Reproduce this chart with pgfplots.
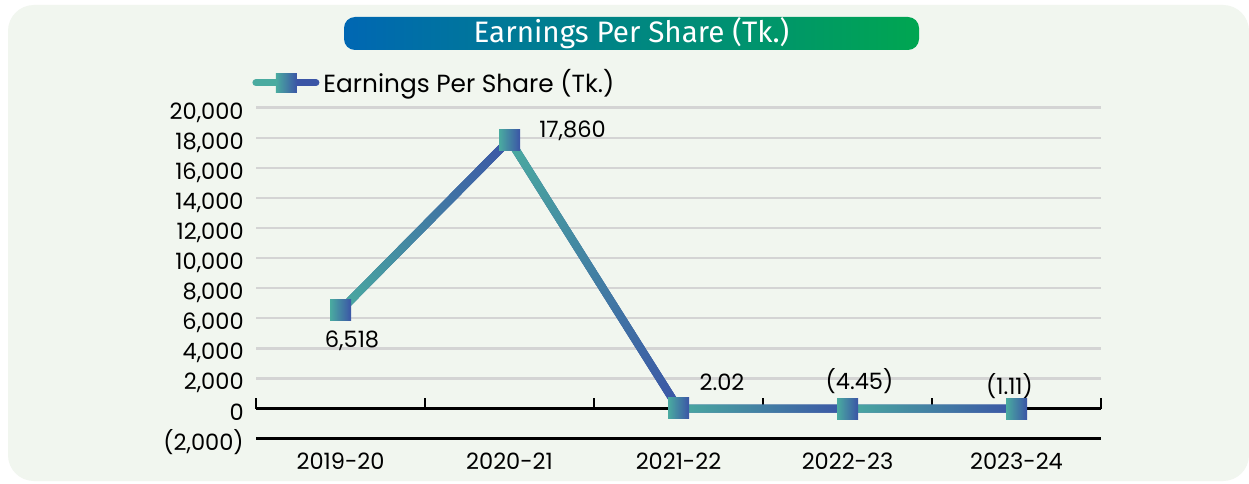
\documentclass[border=0pt]{standalone}
\usepackage{fontspec}
\setmainfont{Poppins}
\newfontfamily\titlefont{Fira Sans}
\usepackage{pgfplots}
\pgfplotsset{compat=1.18}
\usetikzlibrary{decorations.markings}
\definecolor{bgc}{HTML}{F1F6EF}
\definecolor{gridc}{HTML}{D4D4D4}
\definecolor{myteal}{HTML}{4AABA0}
\definecolor{myblue}{HTML}{3B55A6}
\definecolor{banblue}{HTML}{0067B3}
\definecolor{bangreen}{HTML}{00A651}
\newcommand\lf{\fontsize{11.25}{13.5}\selectfont}
\newcommand\lgf{\fontsize{12.4}{14.5}\selectfont}
\tikzset{gradline/.style={line width=4pt, color=myblue, postaction={decorate, decoration={markings,
  mark=between positions 0 and 1 step 0.5pt with {
    \pgfmathsetmacro\pp{100-100*\pgfkeysvalueof{/pgf/decoration/mark info/distance from start}/\pgfdecoratedpathlength}
    \draw[line width=4pt, draw=myteal!\pp!myblue] (-0.45pt,0pt) -- (0.45pt,0pt);
  }}}}}
\pgfdeclareplotmark{gsq}{\shade[draw=none, left color=myteal,right color=myblue] (-\pgfplotmarksize,-\pgfplotmarksize) rectangle (\pgfplotmarksize,\pgfplotmarksize);}
\begin{document}
\begin{tikzpicture}[x=1pt,y=1pt]
\useasboundingbox (0,0) rectangle (624.5,241.5);
\fill[white] (0,0) rectangle (624.5,241.5);
\fill[bgc, rounded corners=13pt] (4,1) rectangle (624.5,239);
\shade[left color=banblue, right color=bangreen, rounded corners=5.5pt] (172,216.5) rectangle (459.5,233);
\node[text=white, inner sep=0pt] at (315.75,224.75) {\titlefont\fontsize{14.8}{17}\selectfont Earnings Per Share (Tk.)};
\begin{axis}[
  at={(151.5,29.5)}, anchor=south west,
  scale only axis, width=422.5pt, height=165.5pt,
  xmin=-0.5, xmax=4.5, ymin=-2000, ymax=20000,
  clip=false,
  scaled y ticks=false,
  axis line style={draw=none},
  xtick={0,1,2,3,4},
  xticklabels={2019-20,2020-21,2021-22,2022-23,2023-24},
  ytick={-2000,0,2000,4000,6000,8000,10000,12000,14000,16000,18000,20000},
  yticklabels={{(2,000)},0,{2,000},{4,000},{6,000},{8,000},{10,000},{12,000},{14,000},{16,000},{18,000},{20,000}},
  major tick length=0pt,
  tick style={draw=none},
  ymajorgrids,
  grid style={gridc, line width=1.2pt},
  yticklabel style={font=\lf, anchor=base east, inner sep=0pt, xshift=-6pt, yshift=-5.75pt},
  xticklabel style={font=\lf, anchor=base, inner sep=0pt, yshift=-15.5pt},
  legend style={draw=none, fill=none, inner sep=0pt, at={(axis description cs:0,1)}, anchor=west, xshift=-2pt, yshift=12.5pt, font=\lgf},
  legend cell align=left,
]
\draw[black, line width=1.2pt] (axis cs:-0.5,-2000) -- (axis cs:4.5,-2000);
\draw[black, line width=1.5pt] (axis cs:-0.5,0) -- (axis cs:4.5,0);
\draw[black, line width=1pt] (axis cs:-0.5,0) -- ++(0pt,5.5pt);
\draw[black, line width=1pt] (axis cs:0.5,0) -- ++(0pt,5.5pt);
\draw[black, line width=1pt] (axis cs:1.5,0) -- ++(0pt,5.5pt);
\draw[black, line width=1pt] (axis cs:2.5,0) -- ++(0pt,5.5pt);
\draw[black, line width=1pt] (axis cs:3.5,0) -- ++(0pt,5.5pt);
\draw[black, line width=1pt] (axis cs:4.5,0) -- ++(0pt,5.5pt);
\addlegendimage{legend image code/.code={
  \draw[myteal, line width=3.5pt, line cap=round] (0pt,0pt) -- (15pt,0pt);
  \draw[myblue, line width=3.5pt, line cap=round] (15pt,0pt) -- (30pt,0pt);
  \shade[draw=none, left color=myteal, right color=myblue] (10pt,-4.75pt) rectangle (20.5pt,4.75pt);
}}
\addlegendentry{Earnings Per Share (Tk.)}
\addplot[gradline, forget plot] coordinates {(0,6518) (1,17860)};
\addplot[gradline, forget plot] coordinates {(1,17860) (2,2.02)};
\addplot[gradline, forget plot] coordinates {(2,2.02) (3,-4.45)};
\addplot[gradline, forget plot] coordinates {(3,-4.45) (4,-1.11)};
\addplot[only marks, mark=gsq, mark size=5.25pt, forget plot] coordinates {(0,6518) (1,17860) (2,2.02) (3,-4.45) (4,-1.11)};
\node[font=\lf, anchor=base, xshift=5.75pt, yshift=-18.5pt] at (axis cs:0,6518) {6,518};
\node[font=\lf, anchor=base, xshift=31.5pt, yshift=1pt] at (axis cs:1,17860) {17,860};
\node[font=\lf, anchor=base, xshift=21.75pt, yshift=9pt] at (axis cs:2,2.02) {2.02};
\node[font=\lf, anchor=base, xshift=6pt, yshift=9.5pt] at (axis cs:3,-4.45) {(4.45)};
\node[font=\lf, anchor=base, xshift=-3.5pt, yshift=7pt] at (axis cs:4,-1.11) {(1.11)};
\end{axis}
\end{tikzpicture}
\end{document}
